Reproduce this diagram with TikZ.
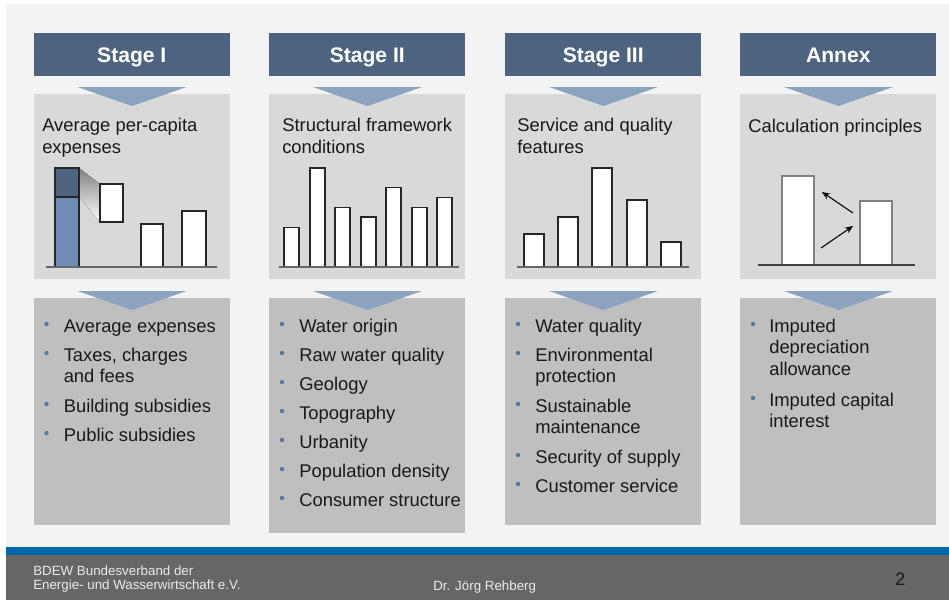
\documentclass[tikz,border=0pt]{standalone}
\usepackage{fontspec}
\setmainfont{Liberation Sans}
\usetikzlibrary{arrows.meta}

\definecolor{slate}{RGB}{78,99,128}
\definecolor{chev}{RGB}{139,163,190}
\definecolor{paneltop}{RGB}{217,217,217}
\definecolor{panelbot}{RGB}{191,191,191}
\definecolor{slidebg}{RGB}{243,243,243}
\definecolor{stripe}{RGB}{0,102,170}
\definecolor{footgray}{RGB}{102,102,102}
\definecolor{dotblue}{RGB}{88,118,158}
\definecolor{barblue}{RGB}{111,141,184}
\definecolor{shade}{RGB}{143,158,176}

\begin{document}
\begin{tikzpicture}[x=0.75pt, y=-0.75pt,
    header/.style={fill=slate, text=white, anchor=north west, inner sep=0pt,
      minimum width=147pt, minimum height=32.25pt, text depth=0pt,
      font=\fontsize{15.8}{19}\selectfont\bfseries},
    upbox/.style={fill=paneltop, anchor=north west, inner sep=0pt,
      minimum width=147pt, minimum height=138.75pt},
    lowbox/.style={fill=panelbot, anchor=north west, inner sep=0pt, minimum width=147pt},
    title/.style={anchor=base west, align=left, inner sep=0pt, text=black!90,
      font=\fontsize{13.8}{16.2}\selectfont},
    item/.style={title},
    bar/.style={draw=black!85, fill=white, line width=1pt},
    axis/.style={draw=black!60, line width=1.5pt},
    foot/.style={anchor=base west, align=left, inner sep=0pt, text=white!92!black,
      font=\fontsize{10}{10.5}\selectfont}]
  \useasboundingbox (0,0) rectangle (949,600);
  \fill[white] (0,0) rectangle (949,600);

  % Hintergrund und Fußzeile
  \fill[slidebg] (6,4) rectangle (949,547);
  \fill[stripe] (6,547) rectangle (949,555);
  \fill[footgray] (6,555) rectangle (949,600);

  % Spalten (y der Überschrift = Grundlinie der letzten Zeile)
  \foreach \x/\n/\h/\tx/\ty/\hd/\ttl in {
      33.5/1/170.25/8.5/153/Stage I/{Average per-capita\\expenses},
      269/2/176.25/13/153/Stage II/{Structural framework\\conditions},
      505/3/170.25/12/153/Stage III/{Service and quality\\features},
      740/4/170.25/8/132/Annex/{Calculation principles}} {
    \node[header] (head\n) at (\x,33) {\hd};
    \node[upbox] (top\n) at (\x,94) {};
    \node[lowbox, minimum height=\h pt] (low\n) at (\x,298) {};
    \fill[chev] (\x+44,87) -- (\x+153,87) -- (\x+98.5,106) -- cycle;
    \fill[chev] (\x+44,291) -- (\x+153,291) -- (\x+98.5,310) -- cycle;
    \node[title] (ttl\n) at (\x+\tx,\ty) {\ttl};
  }

  % Diagramm Stage I
  \fill[shade] (79,168) -- (100,184) -- (100,222) -- (79,197) -- cycle;
  \draw[bar, fill=barblue] (55,197) rectangle (79,266.7);
  \draw[bar, fill=slate] (55,168) rectangle (79,197);
  \draw[bar] (100,184) rectangle (123,222);
  \draw[bar] (141,224) rectangle (163,266.7);
  \draw[bar] (182,211) rectangle (206,266.7);
  \draw[axis] (46,266.7) -- (217,266.7);

  % Diagramm Stage II
  \foreach \bx/\by in {284/227.7, 310/168, 335/207.7, 361/217, 386/187.7, 412/207.7, 437/197.7}
    \draw[bar] (\bx,\by) rectangle (\bx+15,266.7);
  \draw[axis] (279,266.7) -- (459,266.7);

  % Diagramm Stage III
  \foreach \bx/\by in {524/234, 558/217, 592/168, 627/200, 661/242}
    \draw[bar] (\bx,\by) rectangle (\bx+20,266.7);
  \draw[axis] (517,266.7) -- (689,266.7);

  % Diagramm Annex
  \draw[bar, draw=black!50, line width=1.2pt] (782,176) rectangle (814,265);
  \draw[bar, draw=black!50, line width=1.2pt] (860,201) rectangle (892,265);
  \draw[axis, draw=black!75] (758,265) -- (915,265);
  \coordinate (up1) at (853,213);
  \coordinate (up2) at (822,192);
  \coordinate (dn1) at (821,248);
  \coordinate (dn2) at (853,226);
  \draw[-{Stealth[length=6pt, width=5pt]}, line width=0.8pt] (up1) -- (up2);
  \draw[-{Stealth[length=6pt, width=5pt]}, line width=0.8pt] (dn1) -- (dn2);

  % Aufzählungen: Punkt auf der ersten Zeile, Knoten auf der letzten
  \foreach \y/\ly/\txt [count=\i] in {332/332/Average expenses, 361/382.7/{Taxes, charges\\and fees},
      412/412/Building subsidies, 441/441/Public subsidies} {
    \fill[dotblue] (46.5,\y-8) circle (2.2);
    \node[item] (lsta\i) at (63.5,\ly) {\txt};
  }
  \foreach \y/\txt [count=\i] in {332/Water origin, 361/Raw water quality, 390/Geology,
      419/Topography, 448/Urbanity, 477/Population density, 506/Consumer structure} {
    \fill[dotblue] (282,\y-8) circle (2.2);
    \node[item] (lstb\i) at (299,\y) {\txt};
  }
  \foreach \y/\ly/\txt [count=\i] in {332/332/Water quality, 361/382.7/{Environmental\\protection},
      412/433.7/{Sustainable\\maintenance}, 463/463/Security of supply, 492/492/Customer service} {
    \fill[dotblue] (518,\y-8) circle (2.2);
    \node[item] (lstc\i) at (535,\ly) {\txt};
  }
  \foreach \y/\ly/\txt [count=\i] in {332/375.4/{Imputed\\depreciation\\allowance},
      406/427.7/{Imputed capital\\interest}} {
    \fill[dotblue] (753,\y-8) circle (2.2);
    \node[item] (lstd\i) at (769,\ly) {\txt};
  }

  % Fußzeile
  \node[foot] (org) at (33,589) {BDEW Bundesverband der\\Energie- und Wasserwirtschaft e.V.};
  \node[foot] (autor) at (433,590) {Dr. Jörg Rehberg};
  \node[foot, text=black!90, font=\fontsize{13.5}{14}\selectfont] (seite) at (895,585) {2};
\end{tikzpicture}
\end{document}
